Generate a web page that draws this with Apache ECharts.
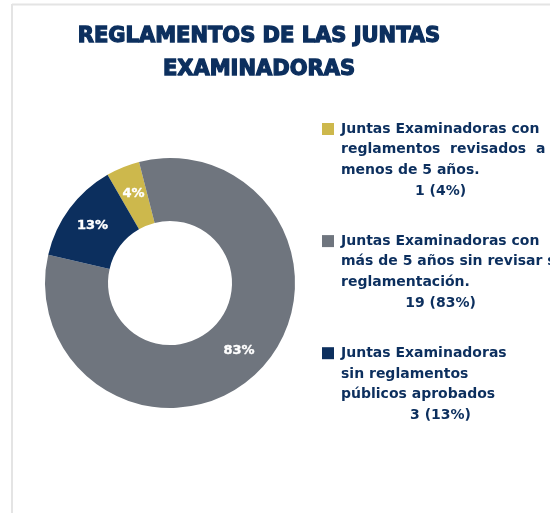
<!DOCTYPE html>
<html>
<head>
<meta charset="utf-8">
<script src="https://cdn.jsdelivr.net/npm/echarts@6/dist/echarts.min.js"></script>
<style>
  html, body { margin: 0; padding: 0; background: #fff; }
  #main { width: 550px; height: 513px; }
</style>
</head>
<body>
<div id="main"></div>
<script>
// datos
var categories = ['reglamentos revisados', 'sin revisar', 'sin reglamentos'];
var values = [1, 19, 3];
var colors = ['#cdb84c', '#6f757e', '#0c2f5e'];
var legendLines = [
  ['Juntas Examinadoras con', 'reglamentos  revisados  a', 'menos de 5 años.'],
  ['Juntas Examinadoras con', 'más de 5 años sin revisar su', 'reglamentación.'],
  ['Juntas Examinadoras', 'sin reglamentos', 'públicos aprobados']
];
var titleLines = ['REGLAMENTOS DE LAS JUNTAS', 'EXAMINADORAS'];

var total = 0;
for (var i = 0; i < values.length; i++) total += values[i];

var FONT = 'DejaVu Sans';
var NAVY = '#0c2f5e';

var rich = {
  t: { fontFamily: FONT, fontWeight: 'bold', fontSize: 14, color: NAVY, lineHeight: 20.7 },
  ind: { width: 19, lineHeight: 20.7 },
  c: { fontFamily: FONT, fontWeight: 'bold', fontSize: 14, color: NAVY, lineHeight: 20.7, align: 'center' }
};
for (var i = 0; i < colors.length; i++) {
  rich['sq' + i] = { width: 12, height: 12, backgroundColor: colors[i], lineHeight: 20.7 };
  rich['sp' + i] = { width: 7, lineHeight: 20.7 };
}

var chart = echarts.init(document.getElementById('main'));
var option = {
  backgroundColor: '#fff',
  animation: false,
  title: {
    text: titleLines.join('\n'),
    left: 254,
    top: 15,
    textAlign: 'center',
    textStyle: {
      fontFamily: FONT, fontWeight: 'bold', fontSize: 21, color: NAVY, lineHeight: 33,
      textBorderColor: NAVY, textBorderWidth: 1.3
    }
  },
  graphic: [
    { type: 'line', shape: { x1: 12, y1: 4.5, x2: 550, y2: 4.5 }, style: { stroke: '#e4e4e4', lineWidth: 2 }, silent: true },
    { type: 'line', shape: { x1: 12, y1: 4, x2: 12, y2: 513 }, style: { stroke: '#e4e4e4', lineWidth: 2 }, silent: true }
  ],
  legend: {
    orient: 'vertical',
    left: 317,
    top: 122,
    padding: 0,
    itemGap: 36,
    icon: 'none',
    itemWidth: 0,
    itemHeight: 0,
    selectedMode: false,
    data: categories,
    formatter: function (name) {
      var idx = categories.indexOf(name);
      var lines = legendLines[idx];
      var out = '{sq' + idx + '| }{sp' + idx + '| }{t|' + lines[0] + '}';
      for (var k = 1; k < lines.length; k++) {
        out += '\n{ind| }{t|' + lines[k] + '}';
      }
      var pct = Math.round(values[idx] / total * 100);
      out += '\n{ind| }{c|' + values[idx] + ' (' + pct + '%)}';
      return out;
    },
    textStyle: { width: 218, rich: rich }
  },
  series: [{
    type: 'pie',
    center: [170, 283],
    radius: [62, 125],
    startAngle: 120,
    clockwise: true,
    avoidLabelOverlap: false,
    data: categories.map(function (c, i) {
      return { name: c, value: values[i], itemStyle: { color: colors[i] } };
    }),
    label: {
      show: true,
      position: 'inside',
      formatter: function (p) { return Math.round(p.percent) + '%'; },
      color: '#fff',
      fontFamily: FONT,
      fontWeight: 'bold',
      fontSize: 13,
      textBorderColor: '#fff',
      textBorderWidth: 0.4
    },
    labelLine: { show: false },
    emphasis: { disabled: true }
  }]
};
chart.setOption(option);
</script>
</body>
</html>
